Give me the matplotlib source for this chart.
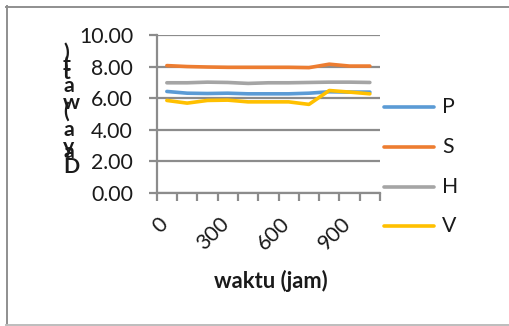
import matplotlib
matplotlib.use("Agg")
import matplotlib.pyplot as plt
from matplotlib.lines import Line2D
from matplotlib.transforms import ScaledTranslation
from matplotlib.ticker import FixedLocator, FixedFormatter, FormatStrFormatter

plt.rcParams['font.family'] = ['Lato', 'DejaVu Sans']

# waktu (jam) categories and measured power per series
waktu = [0, 100, 200, 300, 400, 500, 600, 700, 800, 900, 1000]
P = [6.42, 6.31, 6.29, 6.31, 6.27, 6.27, 6.27, 6.31, 6.40, 6.38, 6.38]
S = [8.06, 8.00, 7.97, 7.95, 7.95, 7.95, 7.95, 7.93, 8.15, 8.03, 8.03]
H = [6.97, 6.97, 7.01, 6.99, 6.93, 6.97, 6.97, 6.99, 7.01, 7.01, 6.99]
V = [5.85, 5.68, 5.85, 5.87, 5.76, 5.76, 5.76, 5.60, 6.48, 6.38, 6.27]
series_names = ['P', 'S', 'H', 'V']
colors = ['#5B9BD5', '#ED7D31', '#A5A5A5', '#FFC000']
shown_labels = ['0', '300', '600', '900']

W, Hh = 509, 326
fig = plt.figure(figsize=(W / 100, Hh / 100), dpi=100)

def fx(px):
    return px / W

def fy(py):
    return 1 - py / Hh

ax = fig.add_axes([fx(156.7), fy(192.7), fx(380) - fx(156.7), fy(35) - fy(192.7)])

idx = list(range(len(waktu)))
handles = []
for vals, name, c in zip([P, S, H, V], series_names, colors):
    ln, = ax.plot(idx, vals, color=c, lw=2.6, solid_capstyle='round', label=name, zorder=3)
    handles.append(ln)

ax.set_xlim(-0.5, len(waktu) - 0.5)
ax.set_ylim(0, 10)

grid_c = '#8c8c8c'
ax.set_yticks([0, 2, 4, 6, 8, 10])
ax.yaxis.set_major_formatter(FormatStrFormatter('%.2f'))
ax.grid(axis='y', color=grid_c, lw=1.6, zorder=1)
ax.tick_params(axis='y', length=6, width=1.6, color=grid_c, pad=11,
               labelsize=15.3, labelcolor='#1a1a1a')

# category labels every third point, boundary ticks between categories
label_pos = [waktu.index(int(s)) for s in shown_labels]
ax.xaxis.set_major_locator(FixedLocator(label_pos))
ax.xaxis.set_major_formatter(FixedFormatter(shown_labels))
ax.xaxis.set_minor_locator(FixedLocator([i - 0.5 for i in range(len(waktu) + 1)]))
ax.tick_params(axis='x', which='major', length=0, pad=15, labelsize=15.3,
               labelrotation=45, labelcolor='#1a1a1a')
ax.tick_params(axis='x', which='minor', length=6, width=1.6, color=grid_c)
shift = ScaledTranslation(5 / 100, 0, fig.dpi_scale_trans)
for lab in ax.get_xticklabels():
    lab.set_ha('right')
    lab.set_va('top')
    lab.set_transform(lab.get_transform() + shift)

for side in ['top', 'right']:
    ax.spines[side].set_visible(False)
for side in ['left', 'bottom']:
    ax.spines[side].set_color(grid_c)
    ax.spines[side].set_linewidth(1.6)

fig.text(fx(270.5), fy(281), 'waktu (jam)', ha='center', va='center',
         fontsize=15.8, fontweight='bold', color='#1a1a1a')

# stacked y-axis title, one glyph per position
ychars = [')', 't', 't', 'a', 'w', '(', 'a', 'y', 'a', 'D']
ypos = [52.3, 65, 73.3, 85.7, 103.3, 111.7, 130, 146.7, 151.7, 167]
for ch, py in zip(ychars, ypos):
    fig.text(fx(63), fy(py), ch, ha='left', va='center', fontsize=15.3,
             fontweight='bold', color='#1a1a1a')

# legend entries
leg_y = [107.3, 146.7, 186.7, 226]
for h, name, py in zip(handles, series_names, leg_y):
    fig.add_artist(Line2D([fx(384), fx(434)], [fy(py), fy(py)], color=h.get_color(),
                          lw=2.6, solid_capstyle='round', transform=fig.transFigure))
    fig.text(fx(442), fy(py), name, ha='left', va='center', fontsize=15.3, color='#1a1a1a')

# chart frame
frame_c = '#8f8f8f'
fig.add_artist(Line2D([fx(6), fx(509)], [fy(6.5), fy(6.5)], color=frame_c, lw=1.4,
                      transform=fig.transFigure))
fig.add_artist(Line2D([fx(6.5), fx(6.5)], [fy(6), fy(325)], color=frame_c, lw=1.4,
                      transform=fig.transFigure))
fig.add_artist(Line2D([fx(6), fx(509)], [fy(325), fy(325)], color='#bdbdbd', lw=1.4,
                      transform=fig.transFigure))

fig.savefig('out.png', dpi=100, facecolor='white')
